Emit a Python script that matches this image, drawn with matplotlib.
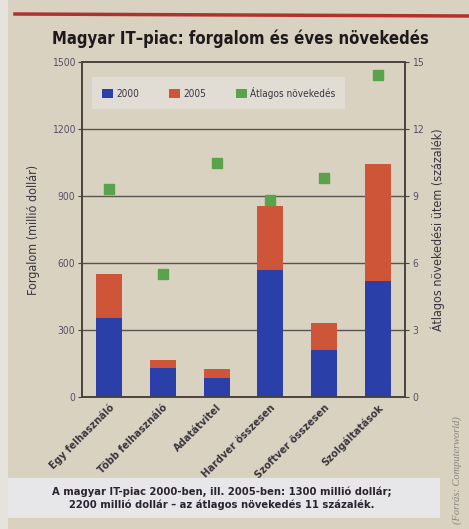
import matplotlib.pyplot as plt
import numpy as np
from matplotlib.patches import Rectangle, Patch
from matplotlib.lines import Line2D

plt.rcParams['font.family'] = ['DejaVu Sans']
plt.rcParams['font.stretch'] = 'condensed'

categories = ['Egy felhasználó', 'Több felhasználó', 'Adatátvitel',
              'Hardver összesen', 'Szoftver összesen', 'Szolgáltatások']
sales_2000 = [355, 130, 85, 570, 210, 520]
sales_2005 = [550, 165, 125, 855, 330, 1045]
growth = [9.3, 5.5, 10.5, 8.8, 9.8, 14.4]

paper = '#d9d2c0'
blue = '#2b3fa8'
red = '#cf5538'
green = '#5ba24c'
ink = '#3a3440'

W, H = 469, 529
fig = plt.figure(figsize=(W / 100, H / 100), dpi=100, facecolor=paper)

# light strip on the left edge and red rule on top
fig.patches.append(Rectangle((0, 0), 8 / W, 1, transform=fig.transFigure,
                             facecolor='#e6e3dc', edgecolor='none'))
fig.add_artist(Line2D([15 / W, 1], [1 - 14 / H, 1 - 16 / H],
                      transform=fig.transFigure, color='#b3302c', lw=2.5))

fig.text(52 / W, 1 - 39 / H, 'Magyar IT–piac: forgalom és éves növekedés',
         fontsize=12, fontweight='bold', color='#1e1a1c', va='center', ha='left')

ax = fig.add_axes([82 / W, (H - 397) / H, 323 / W, 335 / H])
ax.set_facecolor(paper)
x = np.arange(len(categories))
ax.bar(x, sales_2000, width=0.48, color=blue, zorder=2)
ax.bar(x, np.array(sales_2005) - np.array(sales_2000), bottom=sales_2000,
       width=0.48, color=red, zorder=2)
ax.set_xlim(-0.5, len(categories) - 0.5)
ax.set_ylim(0, 1500)
ax.set_yticks([0, 300, 600, 900, 1200, 1500])
for v in [300, 600, 900, 1200]:
    ax.axhline(v, color='#5a5450', lw=1.0, zorder=1)
for s in ax.spines.values():
    s.set_color('#4a4240')
    s.set_linewidth(1.2)
ax.tick_params(axis='y', length=3, color='#4a4240', labelsize=7.5,
               labelcolor='#5a5068', pad=2)
ax.set_xticks(x)
ax.set_xticklabels(categories, rotation=45, ha='right', rotation_mode='anchor',
                   fontsize=7.8, fontweight='bold', color=ink)
ax.tick_params(axis='x', length=0, pad=4)
ax.set_ylabel('Forgalom (millió dollár)', fontsize=9, color=ink, labelpad=8)

ax2 = ax.twinx()
ax2.plot(x, growth, 's', color=green, markersize=6.5, zorder=3)
ax2.set_ylim(0, 15)
ax2.set_yticks([0, 3, 6, 9, 12, 15])
ax2.tick_params(axis='y', length=3, color='#4a4240', labelsize=7.5,
                labelcolor='#5a5068', pad=2)
for s in ax2.spines.values():
    s.set_color('#4a4240')
    s.set_linewidth(1.2)
ax2.set_ylabel('Átlagos növekedési ütem (százalék)', fontsize=9, color=ink,
               labelpad=5)

handles = [Patch(facecolor=blue, label='2000'),
           Patch(facecolor=red, label='2005'),
           Patch(facecolor=green, label='Átlagos növekedés')]
leg = ax.legend(handles=handles, loc='upper left', ncol=3,
                bbox_to_anchor=(10 / 323, (335 - 15) / 335),
                fontsize=7.2, frameon=True, fancybox=False,
                handlelength=1.1, handleheight=1.1, handletextpad=0.3,
                columnspacing=3.0, borderpad=1.0, borderaxespad=0)
leg.get_frame().set_facecolor('#e4e1da')
leg.get_frame().set_edgecolor('none')
for t in leg.get_texts():
    t.set_color(ink)

# caption box
fig.patches.append(Rectangle((8 / W, 1 - 518 / H), 432 / W, 40 / H,
                             transform=fig.transFigure, facecolor='#e7e6e8',
                             edgecolor='none'))
fig.text(222 / W, 1 - 498 / H,
         'A magyar IT-piac 2000-ben, ill. 2005-ben: 1300 millió dollár;\n'
         '2200 millió dollár – az átlagos növekedés 11 százalék.',
         fontsize=8, fontweight='bold', color='#2a2430', ha='center',
         va='center', linespacing=1.35)

fig.text(457 / W, 1 - 470 / H, '(Forrás: Computerworld)', rotation=90,
         fontsize=7.5, style='italic', family='Liberation Serif',
         color='#8a8480', ha='center', va='center')

fig.savefig('out.png', dpi=100, facecolor=paper)
